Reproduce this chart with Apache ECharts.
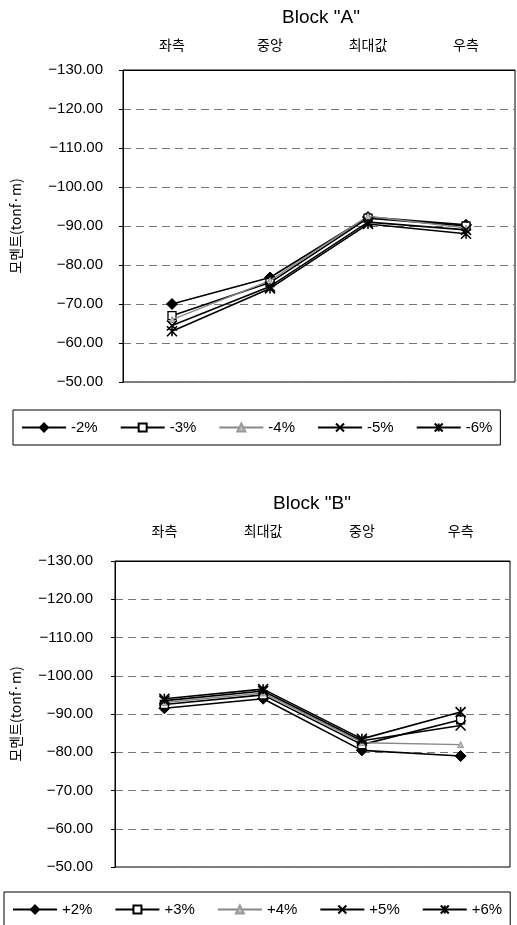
<!DOCTYPE html>
<html>
<head>
<meta charset="utf-8">
<script src="https://cdn.jsdelivr.net/npm/echarts@6/dist/echarts.min.js"></script>
<style>
html,body{margin:0;padding:0;background:#fff;}
#c{width:517px;height:925px;}
</style>
</head>
<body>
<div id="c"></div>
<script>
const categoriesA = ['좌측', '중앙', '최대값', '우측'];
const categoriesB = ['좌측', '최대값', '중앙', '우측'];
const namesA = ['-2%', '-3%', '-4%', '-5%', '-6%'];
const namesB = ['+2%', '+3%', '+4%', '+5%', '+6%'];
const titleA = 'Block "A"';
const titleB = 'Block "B"';
const yAxisName = '모멘트(tonf·m)';
const yMin = -130, yMax = -50, yStep = 10;

const a2 = [-70, -76.8, -92.3, -90.3];
const a3 = [-67, -75.5, -92, -90];
const a4 = [-66, -76, -92.5, -89.5];
const a5 = [-64.5, -74.5, -91, -89];
const a6 = [-63, -74, -90.5, -88];

const b2 = [-91.5, -94, -80.5, -79];
const b3 = [-92.5, -95, -82, -88.5];
const b4 = [-93, -95.5, -82.5, -82];
const b5 = [-93.5, -96, -83, -87];
const b6 = [-94, -96.5, -83.5, -90.5];

const FONT = "'Liberation Sans','Noto Sans CJK KR',sans-serif";
const KFONT = "'Noto Sans CJK KR','Liberation Sans',sans-serif";

const markerStyles = [
  {symbol: 'diamond', symbolSize: 11, itemStyle: {color: '#000', borderColor: '#000', borderWidth: 1}, lineStyle: {color: '#000', width: 1.6}},
  {symbol: 'rect', symbolSize: 8, itemStyle: {color: '#fff', borderColor: '#000', borderWidth: 1.3}, lineStyle: {color: '#000', width: 1.6}},
  {symbol: 'triangle', symbolSize: 6, itemStyle: {color: '#bbb', borderColor: '#999', borderWidth: 1}, lineStyle: {color: '#888', width: 1.4}},
  {symbol: 'path://M0,0L10,10M10,0L0,10', symbolSize: 10, itemStyle: {color: 'transparent', borderColor: '#000', borderWidth: 1.6}, lineStyle: {color: '#000', width: 1.6}},
  {symbol: 'path://M0,0L10,10M10,0L0,10M5,0L5,10', symbolSize: 10, itemStyle: {color: 'transparent', borderColor: '#000', borderWidth: 1.6}, lineStyle: {color: '#000', width: 1.6}}
];

function mkSeries(names, arrays, idx) {
  return names.map((n, i) => Object.assign({
    name: n,
    type: 'line',
    xAxisIndex: idx,
    yAxisIndex: idx,
    data: arrays[i],
    showAllSymbol: true,
    z: 3 + i,
    emphasis: {disabled: true}
  }, JSON.parse(JSON.stringify(markerStyles[i]))));
}

function mkY(gridIdx, margin, nameGap) {
  return {
    type: 'value', gridIndex: gridIdx, min: yMin, max: yMax, interval: yStep, inverse: true,
    name: yAxisName, nameLocation: 'middle', nameRotate: 90, nameGap: nameGap,
    nameTextStyle: {fontFamily: KFONT, fontSize: 14, color: '#000'},
    axisLine: {show: true, lineStyle: {color: '#000', width: 1}},
    axisTick: {show: true, length: 4, lineStyle: {color: '#000'}},
    axisLabel: {formatter: v => v.toFixed(2).replace('-', '\u2212'), fontFamily: FONT, fontSize: 15, color: '#000', margin: margin},
    splitLine: {show: true, lineStyle: {color: '#777', width: 1, type: [8, 5]}}
  };
}

function mkX(cats, gridIdx, margin) {
  return {
    type: 'category', gridIndex: gridIdx, data: cats, position: 'top', boundaryGap: true,
    axisLine: {show: true, lineStyle: {color: '#000'}},
    axisTick: {show: false},
    axisLabel: {fontFamily: KFONT, fontSize: 14, color: '#000', margin: margin},
    splitLine: {show: false}
  };
}

function mkLegend(names, left, top, width) {
  return {
    data: names.map(n => ({name: n})),
    left: left, top: top, width: width,
    orient: 'horizontal',
    itemWidth: 44, itemHeight: 10, itemGap: 22,
    padding: [10, 8, 10, 8],
    borderColor: '#000', borderWidth: 1,
    textStyle: {fontFamily: FONT, fontSize: 15, color: '#000'},
    selectedMode: false
  };
}

const chart = echarts.init(document.getElementById('c'), null, {renderer: 'canvas'});
chart.setOption({
  backgroundColor: '#fff',
  animation: false,
  title: [
    {text: titleA, left: 277, top: 3, textStyle: {fontFamily: FONT, fontSize: 19, fontWeight: 'normal', color: '#000'}},
    {text: titleB, left: 268, top: 489, textStyle: {fontFamily: FONT, fontSize: 19, fontWeight: 'normal', color: '#000'}}
  ],
  grid: [
    {left: 123, top: 70, width: 392, height: 312, show: true, borderColor: '#000', borderWidth: 1, backgroundColor: 'transparent'},
    {left: 115, top: 561, width: 395, height: 306, show: true, borderColor: '#000', borderWidth: 1, backgroundColor: 'transparent'}
  ],
  xAxis: [mkX(categoriesA, 0, 18), mkX(categoriesB, 1, 23)],
  yAxis: [mkY(0, 20, 100), mkY(1, 22, 92)],
  legend: [
    mkLegend(namesA, 13, 410, 492),
    mkLegend(namesB, 4, 892, 505)
  ],
  series: mkSeries(namesA, [a2, a3, a4, a5, a6], 0).concat(mkSeries(namesB, [b2, b3, b4, b5, b6], 1))
});
</script>
</body>
</html>
